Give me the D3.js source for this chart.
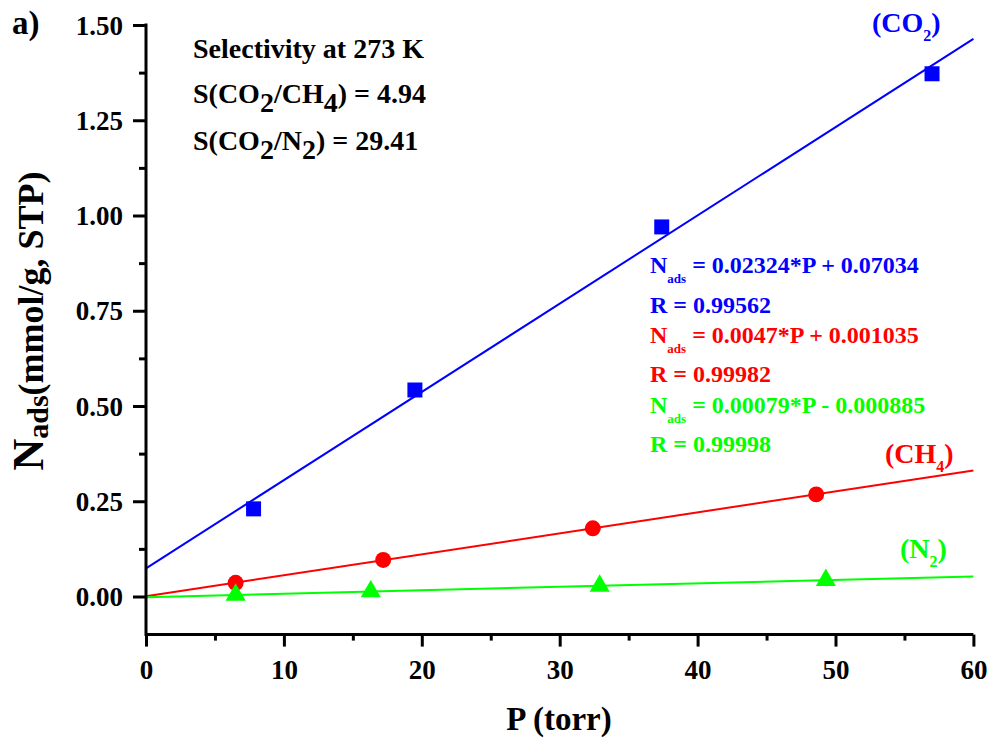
<!DOCTYPE html>
<html>
<head>
<meta charset="utf-8">
<script src="https://cdn.jsdelivr.net/npm/d3@7"></script>
<style>
  html, body { margin: 0; padding: 0; background: #ffffff; }
  svg { display: block; }
  text { font-family: "Liberation Serif", "Times New Roman", serif; font-weight: bold; }
</style>
</head>
<body>
<svg id="chart" width="990" height="740"></svg>
<script>
// Adsorbed amount (mmol/g, STP) versus pressure (torr) at 273 K
const pressureCO2 = [7.8, 19.5, 37.4, 57.0];
const nadsCO2     = [0.230, 0.542, 0.970, 1.372];
const pressureCH4 = [6.5, 17.2, 32.4, 48.6];
const nadsCH4     = [0.036, 0.096, 0.179, 0.268];
const pressureN2  = [6.5, 16.3, 32.9, 49.3];
const nadsN2      = [0.004, 0.013, 0.028, 0.043];

const gasNames   = ["CO", "CH", "N"];
const gasSubs    = ["2", "4", "2"];
const gasColors  = ["#0000ff", "#ff0000", "#00ff00"];

const fitEquations = ["= 0.02324*P + 0.07034", "= 0.0047*P + 0.001035", "= 0.00079*P - 0.000885"];
const fitR         = ["R = 0.99562", "R = 0.99982", "R = 0.99998"];

const xTicks = [0, 10, 20, 30, 40, 50, 60];
const yTicks = [0.00, 0.25, 0.50, 0.75, 1.00, 1.25, 1.50];

const selectivityTitle = "Selectivity at 273 K";
const selectivityCH4 = "4.94";
const selectivityN2  = "29.41";

const series = [
  { px: pressureCO2, py: nadsCO2, symbol: d3.symbolSquare,   size: 225 },
  { px: pressureCH4, py: nadsCH4, symbol: d3.symbolCircle,   size: 200 },
  { px: pressureN2,  py: nadsN2,  symbol: d3.symbolTriangle, size: 175 }
];

const svg = d3.select("#chart");

const x = d3.scaleLinear().domain([0, 60]).range([146, 973.4]);
const y = d3.scaleLinear().domain([-0.1, 1.5]).range([634.6, 25]);

// least-squares line through each series
function linearFit(px, py) {
  const mx = d3.mean(px), my = d3.mean(py);
  let sxy = 0, sxx = 0;
  px.forEach((v, i) => { sxy += (v - mx) * (py[i] - my); sxx += (v - mx) * (v - mx); });
  const slope = sxy / sxx;
  return { slope, intercept: my - slope * mx };
}

// fit lines
const line = d3.line().x(d => x(d[0])).y(d => y(d[1]));
series.forEach((s, i) => {
  const f = linearFit(s.px, s.py);
  const [x0, x1] = x.domain();
  svg.append("path")
    .attr("d", line([[x0, f.intercept + f.slope * x0], [x1, f.intercept + f.slope * x1]]))
    .attr("fill", "none")
    .attr("stroke", gasColors[i])
    .attr("stroke-width", 2);
});

// markers
series.forEach((s, i) => {
  svg.append("g").selectAll("path")
    .data(s.px.map((v, k) => [v, s.py[k]]))
    .join("path")
    .attr("transform", d => `translate(${x(d[0])},${y(d[1])})`)
    .attr("d", d3.symbol().type(s.symbol).size(s.size))
    .attr("fill", gasColors[i]);
});

// axes
const axisColor = "#000000";
const xAxis = d3.axisBottom(x).tickValues(xTicks).tickSize(12).tickPadding(6).tickFormat(d3.format("d"));
const xMinor = d3.axisBottom(x).tickValues(d3.range(5, 60, 10)).tickSize(6).tickFormat("");
const yAxis = d3.axisLeft(y).tickValues(yTicks).tickSize(13).tickPadding(10).tickFormat(d3.format(".2f"));
const yMinor = d3.axisLeft(y).tickValues(d3.range(0.125, 1.5, 0.25)).tickSize(7).tickFormat("");

function styleAxis(g) {
  g.select(".domain").attr("stroke", axisColor).attr("stroke-width", 3);
  g.selectAll(".tick line").attr("stroke", axisColor).attr("stroke-width", 3);
  g.selectAll(".tick text").attr("fill", "#000").style("font-size", "27px")
    .style("font-family", "'Liberation Serif', 'Times New Roman', serif").style("font-weight", "bold");
}

const gx = svg.append("g").attr("transform", `translate(0,${y(-0.1)})`).call(xAxis).call(styleAxis);
gx.select(".domain").attr("d", `M${x(0)},0H${x(60)}`);
gx.selectAll(".tick text").attr("dy", "0").attr("y", 44);
svg.append("g").attr("transform", `translate(0,${y(-0.1)})`).call(xMinor).call(styleAxis)
  .select(".domain").remove();

const gy = svg.append("g").attr("transform", `translate(${x(0)},0)`).call(yAxis).call(styleAxis);
gy.select(".domain").attr("d", `M0,${y(-0.1) + 1.5}V${y(1.5) - 1.5}`);
gy.selectAll(".tick text").attr("dy", "0.34em");
svg.append("g").attr("transform", `translate(${x(0)},0)`).call(yMinor).call(styleAxis)
  .select(".domain").remove();

// axis titles
svg.append("text")
  .attr("x", 559).attr("y", 730)
  .attr("text-anchor", "middle")
  .style("font-size", "33px")
  .text("P (torr)");

const yTitle = svg.append("text")
  .attr("transform", "translate(43,321) rotate(-90)")
  .attr("text-anchor", "middle");
yTitle.append("tspan").style("font-size", "44px").text("N");
yTitle.append("tspan").style("font-size", "30px").attr("dy", 5).text("ads");
yTitle.append("tspan").style("font-size", "36px").attr("dy", -5).text("(mmol/g, STP)");

// panel letter
svg.append("text").attr("x", 12).attr("y", 34).style("font-size", "33px").text("a)");

// selectivity block
svg.append("text").attr("x", 193).attr("y", 58).style("font-size", "28px").text(selectivityTitle);

function selectivityLine(yPos, parts, value) {
  const t = svg.append("text").attr("x", 193).attr("y", yPos).style("font-size", "28px");
  parts.forEach(p => {
    t.append("tspan").attr("dy", p.sub ? 9 : (p.after ? -9 : 0)).text(p.text);
  });
  t.append("tspan").text(" = " + value);
}
selectivityLine(103, [
  { text: "S(CO" }, { text: "2", sub: true }, { text: "/CH", after: true },
  { text: "4", sub: true }, { text: ")", after: true }
], selectivityCH4);
selectivityLine(150, [
  { text: "S(CO" }, { text: "2", sub: true }, { text: "/N", after: true },
  { text: "2", sub: true }, { text: ")", after: true }
], selectivityN2);

// fit equations
const eqBaselines = [273, 343, 413];
const rBaselines  = [313, 382, 452];
gasColors.forEach((c, i) => {
  const t = svg.append("text").attr("x", 650).attr("y", eqBaselines[i])
    .attr("fill", c).style("font-size", "24px");
  t.append("tspan").text("N");
  t.append("tspan").style("font-size", "13px").attr("dy", 10).text("ads");
  t.append("tspan").attr("dy", -10).text(" " + fitEquations[i]);
  svg.append("text").attr("x", 650).attr("y", rBaselines[i])
    .attr("fill", c).style("font-size", "24px").text(fitR[i]);
});

// series labels
const labelPos = [[872, 32], [885, 463], [900, 558]];
gasColors.forEach((c, i) => {
  const t = svg.append("text").attr("x", labelPos[i][0]).attr("y", labelPos[i][1])
    .attr("fill", c).style("font-size", "28px");
  t.append("tspan").text("(" + gasNames[i]);
  t.append("tspan").style("font-size", "16px").attr("dy", 9).text(gasSubs[i]);
  t.append("tspan").attr("dy", -9).text(")");
});
</script>
</body>
</html>
